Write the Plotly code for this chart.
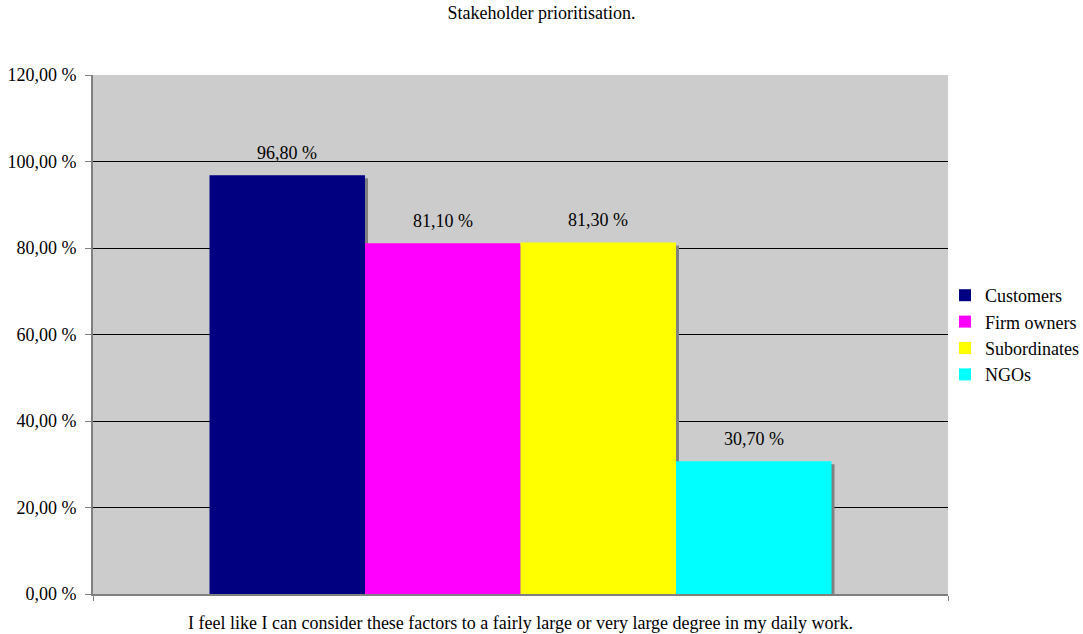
import plotly.graph_objects as go

categories = ["Customers", "Firm owners", "Subordinates", "NGOs"]
values = [96.8, 81.1, 81.3, 30.7]
colors = ["#000080", "#FF00FF", "#FFFF00", "#00FFFF"]
group_label = "I feel like I can consider these factors to a fairly large or very large degree in my daily work."
tick_vals = [0, 20, 40, 60, 80, 100, 120]
tick_text = [f"{v:.2f}".replace(".", ",") + " %" for v in tick_vals]

FONT = "Liberation Serif, Times New Roman, serif"
FS = 18

bargap = 0.2725
n = len(categories)
w = (1 - bargap) / n
start = -0.5 + bargap / 2
centers = [start + (i + 0.5) * w for i in range(n)]

plot_w_px = 855
plot_h_px = 519
dx = 3 / plot_w_px
dy = 3 * 120 / plot_h_px

fig = go.Figure()

# shadows
for c, v, xc in zip(categories, values, centers):
    fig.add_trace(go.Bar(
        x=[xc + dx], y=[v - dy], width=w,
        marker=dict(color="#808080", line=dict(width=0)),
        showlegend=False, hoverinfo="skip",
    ))

# main bars
for c, v, col, xc in zip(categories, values, colors, centers):
    fig.add_trace(go.Bar(
        x=[xc], y=[v], name=c, width=w,
        marker=dict(color=col, line=dict(width=0)),
    ))
    fig.add_annotation(
        x=xc, y=v, text=f"{v:.2f}".replace(".", ",") + " %",
        showarrow=False, yanchor="bottom", yshift=10,
        font=dict(family=FONT, size=FS, color="#000000"),
    )

fig.update_layout(
    width=1083, height=634,
    margin=dict(l=93, r=135, t=75, b=40, autoexpand=False),
    barmode="overlay",
    paper_bgcolor="#FFFFFF",
    plot_bgcolor="#CCCCCC",
    font=dict(family=FONT, size=FS, color="#000000"),
    title=dict(text="Stakeholder prioritisation.", x=0.5, xanchor="center",
               y=1 - 13 / 634, yanchor="middle", font=dict(family=FONT, size=FS)),
    legend=dict(x=945 / 1083, xref="container", y=1 - 335 / 634, yref="container",
                yanchor="middle", xanchor="left",
                font=dict(family=FONT, size=FS), bgcolor="rgba(0,0,0,0)",
                tracegroupgap=0, itemclick=False),
    showlegend=True,
)
fig.update_xaxes(
    range=[-0.5, 0.5], tickvals=[-0.5, 0.5], ticktext=["", ""],
    showline=True, linecolor="#808080", linewidth=2,
    ticks="outside", ticklen=5, tickcolor="#808080", tickwidth=1,
    showgrid=False, zeroline=False,
    title=dict(text=group_label, standoff=13, font=dict(family=FONT, size=FS)),
)
fig.update_yaxes(
    range=[0, 120], tickvals=tick_vals, ticktext=tick_text,
    showline=True, linecolor="#808080", linewidth=2,
    ticks="outside", ticklen=6, tickcolor="#808080", tickwidth=1,
    showgrid=True, gridcolor="#000000", gridwidth=1,
    zeroline=False, tickfont=dict(family=FONT, size=FS),
    ticklabelstandoff=5,
)

fig.write_html("out.html")
